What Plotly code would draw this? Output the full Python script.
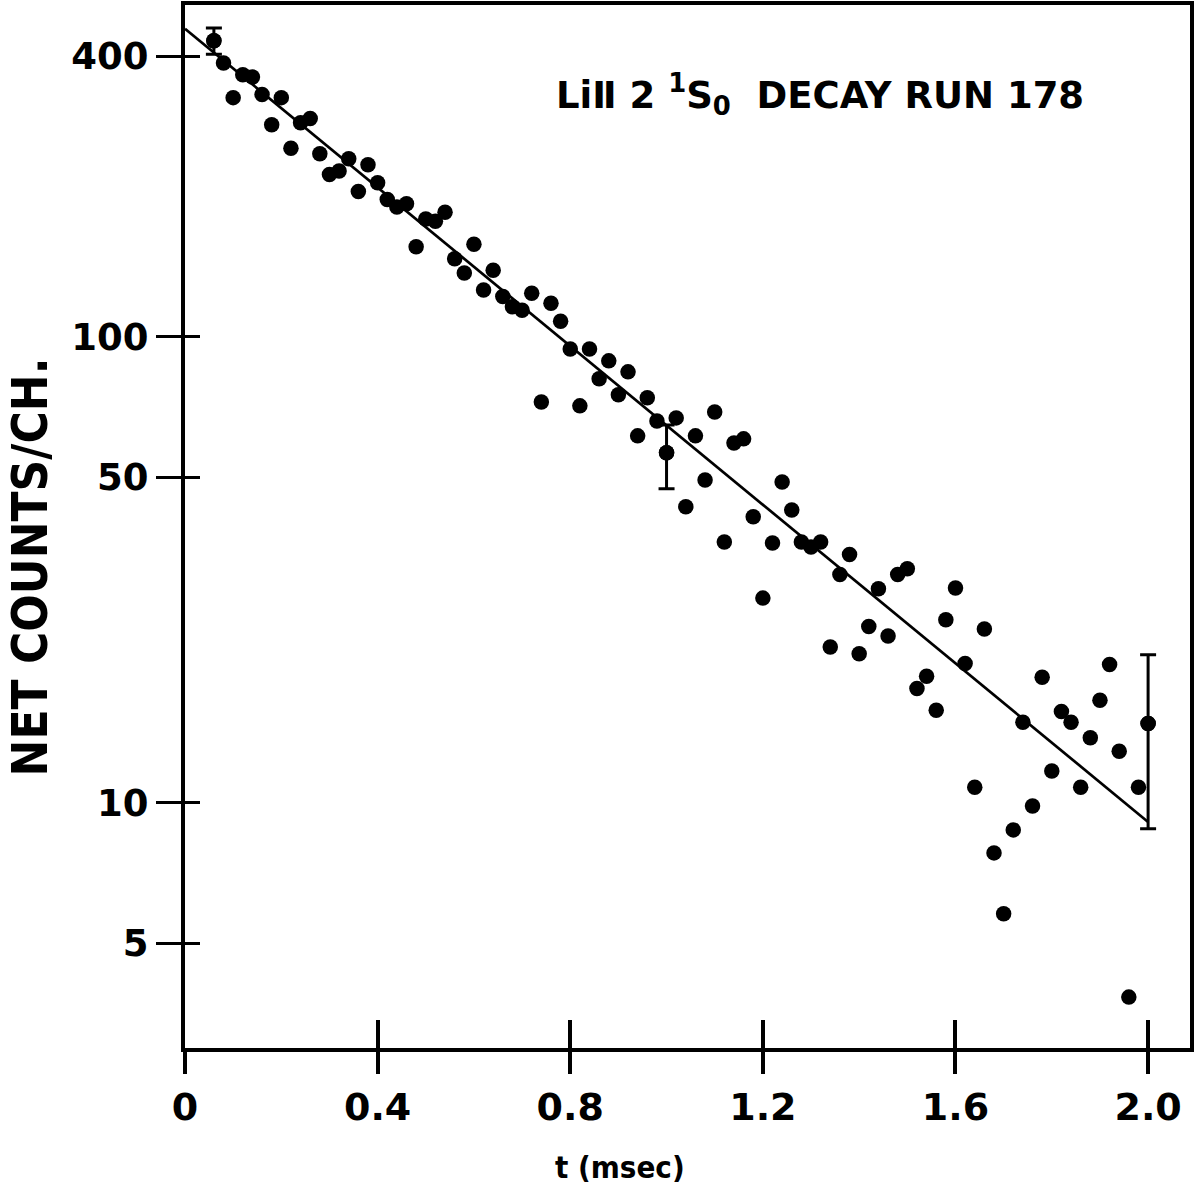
import plotly.graph_objects as go

# channel times (msec)
t_msec = [0.06, 0.08, 0.10, 0.12, 0.14, 0.16, 0.18, 0.20, 0.22, 0.24,
          0.26, 0.28, 0.30, 0.32, 0.34, 0.36, 0.38, 0.40, 0.42, 0.44,
          0.46, 0.48, 0.50, 0.52, 0.54, 0.56, 0.58, 0.60, 0.62, 0.64,
          0.66, 0.68, 0.70, 0.72, 0.74, 0.76, 0.78, 0.80, 0.82, 0.84,
          0.86, 0.88, 0.90, 0.92, 0.94, 0.96, 0.98, 1.00, 1.02, 1.04,
          1.06, 1.08, 1.10, 1.12, 1.14, 1.16, 1.18, 1.20, 1.22, 1.24,
          1.26, 1.28, 1.30, 1.32, 1.34, 1.36, 1.38, 1.40, 1.42, 1.44,
          1.46, 1.48, 1.50, 1.52, 1.54, 1.56, 1.58, 1.60, 1.62, 1.64,
          1.66, 1.68, 1.70, 1.72, 1.74, 1.76, 1.78, 1.80, 1.82, 1.84,
          1.86, 1.88, 1.90, 1.92, 1.94, 1.96, 1.98, 2.00]

net_counts = [432, 387, 326, 365, 361, 331, 285, 326, 254, 288,
              294, 247, 223, 227, 241, 205, 234, 214, 197, 190,
              193, 156, 179, 177, 185, 147, 137, 158, 126, 139,
              122, 116, 114, 124, 72.5, 118, 108, 94.2, 71.1, 94.2,
              81.3, 88.8, 75.1, 84.1, 61.3, 74.0, 66.0, 56.4, 67.0, 43.2,
              61.3, 49.3, 69.0, 36.3, 59.2, 60.4, 41.1, 27.5, 36.1, 48.8,
              42.5, 36.3, 35.4, 36.3, 21.6, 30.9, 34.1, 20.9, 23.9, 28.8,
              22.8, 30.9, 31.8, 17.6, 18.7, 15.8, 24.7, 28.9, 19.9, 10.8,
              23.6, 7.81, 5.78, 8.75, 14.9, 9.85, 18.6, 11.7, 15.7, 14.9,
              10.8, 13.8, 16.6, 19.8, 12.9, 3.83, 10.8, 14.8]

# representative error bars
err_t = [0.06, 1.00, 2.00]
err_counts = [432, 56.4, 14.8]
err_plus = [28, 8.3, 6.0]
err_minus = [28, 9.2, 6.0]

# fitted exponential decay (straight line on log scale)
fit_t = [0.0, 2.0]
fit_counts = [458, 9.1]

x_ticks = [0, 0.4, 0.8, 1.2, 1.6, 2.0]
x_ticktext = ["0", "0.4", "0.8", "1.2", "1.6", "2.0"]
y_ticks = [400, 100, 50, 10, 5]
y_ticktext = ["400", "100", "50", "10", "5"]

X_RANGE = [0, 2.087]
Y_RANGE = [0.474, 2.712]  # log10 units

xnum_font = dict(family="DejaVu Sans", size=38, color="black", weight="bold")
ynum_font = dict(family="DejaVu Sans", size=37, color="black", weight="bold")

fig = go.Figure()

fig.add_trace(go.Scatter(
    x=fit_t, y=fit_counts, mode="lines",
    line=dict(color="black", width=2.7),
    xaxis="x2", yaxis="y2", showlegend=False, hoverinfo="skip"))

fig.add_trace(go.Scatter(
    x=t_msec, y=net_counts, mode="markers",
    marker=dict(color="black", size=15.5, line=dict(width=0)),
    showlegend=False))

fig.add_trace(go.Scatter(
    x=err_t, y=err_counts, mode="markers",
    marker=dict(color="black", size=15.5, line=dict(width=0)),
    error_y=dict(type="data", array=err_plus, arrayminus=err_minus,
                 color="black", thickness=3, width=8, symmetric=False),
    showlegend=False))

common_x = dict(range=X_RANGE, tickvals=x_ticks, showgrid=False, zeroline=False,
                automargin=False)
common_y = dict(type="log", range=Y_RANGE, tickvals=y_ticks, showgrid=False,
                zeroline=False, automargin=False)

fig.update_layout(
    width=1194, height=1192,
    margin=dict(l=185, r=4, t=5, b=144),
    paper_bgcolor="white", plot_bgcolor="white",
    xaxis=dict(**common_x, ticktext=x_ticktext, ticks="outside", ticklen=22,
               tickwidth=3.5, tickcolor="black", showline=True, linewidth=4,
               linecolor="black", mirror=True, tickfont=xnum_font),
    yaxis=dict(**common_y, ticktext=y_ticktext, ticks="outside", ticklen=25,
               tickwidth=3, tickcolor="black", showline=True, linewidth=4,
               linecolor="black", mirror=True, tickfont=ynum_font),
    xaxis2=dict(**common_x, overlaying="x", anchor="y2", side="bottom",
                ticks="inside", ticklen=28, tickwidth=3.5, tickcolor="black",
                showticklabels=False, showline=False),
    yaxis2=dict(**common_y, overlaying="y", anchor="x2", side="left",
                ticks="inside", ticklen=15, tickwidth=3, tickcolor="black",
                showticklabels=False, showline=False),
    annotations=[
        dict(text="NET COUNTS/CH.", textangle=-90, xref="paper", yref="paper",
             x=-0.154, y=0.461, xanchor="center", yanchor="middle", showarrow=False,
             font=dict(family="DejaVu Sans Condensed, DejaVu Sans", size=49,
                       color="black", weight="bold")),
        dict(text="t (msec)", xref="paper", yref="paper", x=0.433, y=-0.114,
             xanchor="center", yanchor="middle", showarrow=False,
             font=dict(family="DejaVu Sans Condensed, DejaVu Sans", size=31,
                       color="black", weight="bold")),
        dict(text="LiⅡ 2 <sup>1</sup>S<sub>0</sub>  DECAY RUN 178", xref="paper", yref="paper",
             x=0.632, y=0.914, xanchor="center", yanchor="middle", showarrow=False,
             font=dict(family="DejaVu Sans", size=37, color="black", weight="bold")),
    ],
)

fig.write_html("out.html", config={"displayModeBar": False},
               post_script="document.body.style.margin='0px';")
